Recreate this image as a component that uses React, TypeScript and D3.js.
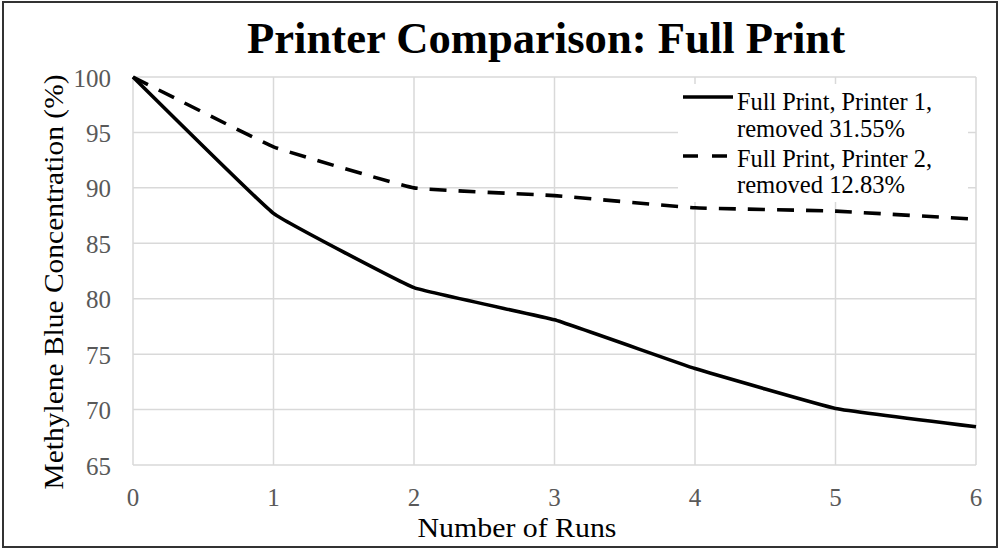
import React from "react";
import * as d3 from "d3";

const runs = [0, 1, 2, 3, 4, 5, 6];
const printer1 = [100, 87.7, 81.0, 78.1, 73.7, 70.1, 68.45];
const printer2 = [100, 93.7, 90.0, 89.3, 88.2, 87.9, 87.17];
const yTicks = [65, 70, 75, 80, 85, 90, 95, 100];
const legendLabels = [
  ["Full Print, Printer 1,", "removed 31.55%"],
  ["Full Print, Printer 2,", "removed 12.83%"],
];
const title = "Printer Comparison: Full Print";
const xTitle = "Number of Runs";
const yTitle = "Methylene Blue Concentration (%)";

export default function App() {
  const W = 1000, H = 550;
  const left = 133, right = 976, top = 77, bottom = 465;
  const x = d3.scaleLinear().domain([0, 6]).range([left, right]);
  const y = d3.scaleLinear().domain([65, 100]).range([bottom, top]);
  const line = d3
    .line<number>()
    .x((_, i) => x(runs[i]))
    .y((d) => y(d))
    .curve(d3.curveCardinal.tension(0.75));
  const st = { fontFamily: "'Liberation Serif', 'Times New Roman', serif" };
  return (
    <svg width={W} height={H} style={{ position: "absolute", left: 0, top: 0, background: "#fff" }}>
      <rect x={0} y={0} width={W} height={H} fill="#fff" />
      <rect x={3} y={2} width={994} height={545} fill="none" stroke="#333" strokeWidth={2} />
      <text x={546} y={53} textAnchor="middle" fontSize={44} fontWeight="bold" fill="#000" style={st} textLength={598} lengthAdjust="spacingAndGlyphs">{title}</text>
      {/* grid */}
      {yTicks.map((t) => (
        <line key={"gy" + t} x1={left} x2={right} y1={y(t)} y2={y(t)} stroke="#d9d9d9" strokeWidth={1.5} />
      ))}
      {runs.map((r) => (
        <line key={"gx" + r} x1={x(r)} x2={x(r)} y1={top} y2={bottom} stroke="#d9d9d9" strokeWidth={1.5} />
      ))}
      {/* tick labels */}
      {yTicks.map((t) => (
        <text key={"ty" + t} x={111} y={y(t) + 9.5} textAnchor="end" fontSize={25} fill="#595959" style={st}>{t}</text>
      ))}
      {runs.map((r) => (
        <text key={"tx" + r} x={x(r)} y={506} textAnchor="middle" fontSize={25} fill="#595959" style={st}>{r}</text>
      ))}
      <text x={517} y={537} textAnchor="middle" fontSize={28} fill="#000" style={st} textLength={199} lengthAdjust="spacingAndGlyphs">{xTitle}</text>
      <text transform={`translate(63,282) rotate(-90)`} textAnchor="middle" fontSize={28} fill="#000" style={st} textLength={415} lengthAdjust="spacingAndGlyphs">{yTitle}</text>
      {/* series */}
      <path d={line(printer1) || ""} fill="none" stroke="#000" strokeWidth={3.6} strokeLinejoin="round" />
      <path d={line(printer2) || ""} fill="none" stroke="#000" strokeWidth={3.6} strokeDasharray="17,12" />
      {/* legend */}
      <rect x={678} y={84} width={290} height={118} fill="#fff" />
      <line x1={683} x2={733} y1={97} y2={97} stroke="#000" strokeWidth={3.6} />
      <line x1={683} x2={733} y1={156} y2={156} stroke="#000" strokeWidth={3.6} strokeDasharray="15,14" />
      {legendLabels.map((lab, i) => (
        <g key={"lg" + i}>
          <text x={737} y={110 + i * 57} fontSize={25} fill="#000" style={st} textLength={195} lengthAdjust="spacingAndGlyphs">{lab[0]}</text>
          <text x={737} y={137 + i * 56} fontSize={25} fill="#000" style={st} textLength={168} lengthAdjust="spacingAndGlyphs">{lab[1]}</text>
        </g>
      ))}
    </svg>
  );
}
